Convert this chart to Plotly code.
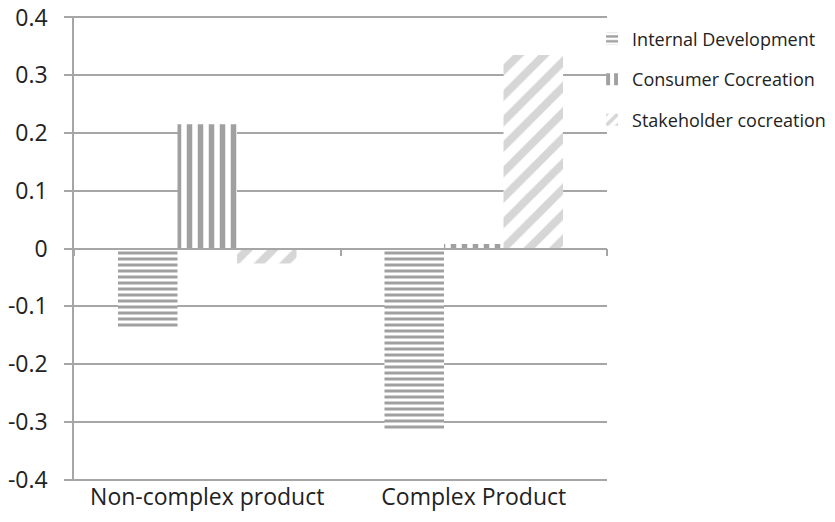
import plotly.graph_objects as go

categories = ["Non-complex product", "Complex Product"]
internal_dev = [-0.136, -0.313]
consumer_cocreation = [0.215, 0.008]
stakeholder_cocreation = [-0.026, 0.335]
y_ticks = [-0.4, -0.3, -0.2, -0.1, 0, 0.1, 0.2, 0.3, 0.4]

FONT = "Open Sans"
grid = "#a6a6a6"

fig = go.Figure()
fig.add_trace(go.Bar(
    name="Internal Development", x=categories, y=internal_dev, legendgroup="a",
    marker=dict(color="#a6a6a6", line=dict(width=0),
                pattern=dict(shape="-", fgcolor="#a0a0a0", bgcolor="white", fgopacity=1,
                             size=6, solidity=0.5)),
))
fig.add_trace(go.Bar(
    name="Consumer Cocreation", x=categories, y=consumer_cocreation, legendgroup="b",
    marker=dict(color="#a6a6a6", line=dict(width=0),
                pattern=dict(shape="|", fgcolor="#a0a0a0", bgcolor="white", fgopacity=1,
                             size=11, solidity=0.5)),
))
fig.add_trace(go.Bar(
    name="Stakeholder cocreation", x=categories, y=stakeholder_cocreation, legendgroup="c",
    marker=dict(color="#d9d9d9", line=dict(width=0),
                pattern=dict(shape="/", fgcolor="#d6d6d6", bgcolor="white", fgopacity=1,
                             size=18, solidity=0.45)),
))

# secondary x axis drawn at y=0 carrying the category boundary tick marks
fig.add_trace(go.Bar(x=categories, y=[0, 0], xaxis="x2", showlegend=False, hoverinfo="skip",
                     marker=dict(color="rgba(0,0,0,0)")))

fig.update_layout(
    width=835, height=522,
    margin=dict(l=74, r=228, t=16, b=41, autoexpand=False),
    paper_bgcolor="white", plot_bgcolor="white",
    barmode="group", bargap=0.33, bargroupgap=0,
    font=dict(family=FONT, color="#222222"),
    legend=dict(x=0.972, y=0.99, xanchor="left", yanchor="top", xref="paper",
                font=dict(size=18, family=FONT, color="#222222"),
                tracegroupgap=14, itemwidth=30, bgcolor="rgba(0,0,0,0)"),
    xaxis=dict(showline=False, ticks="", showgrid=False, zeroline=False, automargin=False,
               tickfont=dict(size=23, family=FONT, color="#222222")),
    xaxis2=dict(overlaying="x", anchor="free", position=0.5, side="bottom", automargin=False,
                showline=True, linecolor=grid, linewidth=1.5,
                ticks="outside", ticklen=7, tickcolor=grid, tickwidth=1.5,
                tickson="boundaries", showticklabels=False, showgrid=False, zeroline=False),
    yaxis=dict(range=[-0.4025, 0.4025], tickvals=y_ticks, automargin=False,
               ticktext=[f"{v:g}\u00a0\u00a0" for v in y_ticks],
               showgrid=True, gridcolor=grid, gridwidth=1.5,
               zeroline=False, showline=True, linecolor=grid, linewidth=1.5,
               ticks="outside", ticklen=8, tickcolor=grid, tickwidth=1.5,
               tickfont=dict(size=23, family=FONT, color="#222222")),
)

fig.write_html("out.html")
